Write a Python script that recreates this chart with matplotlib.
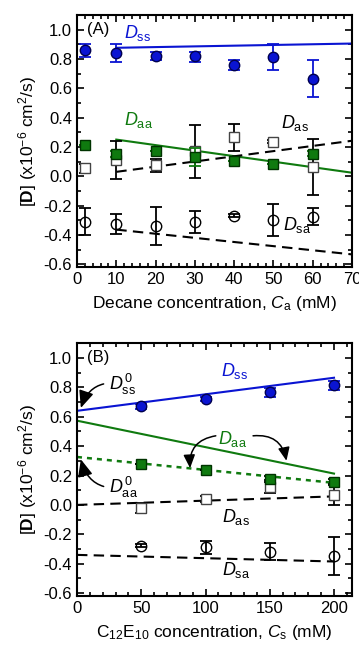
import matplotlib
matplotlib.use("Agg")
import matplotlib.pyplot as plt
from matplotlib.ticker import MultipleLocator

plt.rcParams['font.family'] = ['Liberation Sans', 'DejaVu Sans']
plt.rcParams['mathtext.fontset'] = 'custom'
plt.rcParams['mathtext.rm'] = 'Liberation Sans'
plt.rcParams['mathtext.it'] = 'Liberation Sans:italic'
plt.rcParams['mathtext.bf'] = 'Liberation Sans:bold'

# ------------------------------
# Panel A data (decane)
# ------------------------------
ca = [2, 10, 20, 30, 40, 50, 60]
a_dss = [0.86, 0.84, 0.82, 0.82, 0.76, 0.81, 0.665]
a_dss_lo = [0.045, 0.06, 0.03, 0.04, 0.035, 0.085, 0.125]
a_dss_hi = [0.04, 0.06, 0.03, 0.03, 0.035, 0.095, 0.13]
a_daa = [0.21, 0.15, 0.17, 0.13, 0.105, 0.085, 0.155]
a_daa_err = [0.0, 0.02, 0.0, 0.06, 0.0, 0.0, 0.02]
a_das = [0.055, 0.11, 0.075, 0.17, 0.265, 0.235, 0.065]
a_das_err = [0.03, 0.13, 0.045, 0.18, 0.09, 0.01, 0.19]
a_dsa = [-0.31, -0.325, -0.34, -0.31, -0.27, -0.30, -0.275]
a_dsa_err = [0.09, 0.07, 0.13, 0.075, 0.01, 0.11, 0.06]

a_fit_x = [10, 70]
a_fit_dss = [0.876, 0.905]
a_fit_daa = [0.25, 0.024]
a_fit_das = [0.03, 0.242]
a_fit_dsa = [-0.364, -0.533]

# ------------------------------
# Panel B data (C12E10)
# ------------------------------
cs = [50, 100, 150, 200]
b_dss = [0.67, 0.72, 0.765, 0.815]
b_dss_err = [0.015, 0.015, 0.03, 0.03]
b_daa = [0.28, 0.24, 0.175, 0.157]
b_daa_err = [0.0, 0.0, 0.02, 0.02]
b_das = [-0.02, 0.04, 0.125, 0.07]
b_das_err = [0.035, 0.02, 0.045, 0.07]
b_dsa = [-0.277, -0.288, -0.318, -0.345]
b_dsa_err = [0.01, 0.045, 0.06, 0.13]

b_fit_x = [0, 200]
b_fit_dss = [0.64, 0.865]
b_fit_daa = [0.573, 0.213]
b_fit_daa0 = [0.326, 0.15]
b_fit_das = [0.0, 0.058]
b_fit_dsa = [-0.34, -0.385]

blue = '#0a14d2'
green = '#0f7a0f'

fig = plt.figure(figsize=(3.59, 6.5), dpi=100)
axA = fig.add_axes([0.2145, 0.589, 0.766, 0.388])
axB = fig.add_axes([0.2145, 0.083, 0.766, 0.389])

ebkw = dict(ecolor='black', elinewidth=1.3, capsize=4, capthick=1.3, linestyle='none', zorder=3)


def style_axis(ax):
    ax.set_ylim(-0.62, 1.1)
    ax.yaxis.set_major_locator(MultipleLocator(0.2))
    ax.yaxis.set_minor_locator(MultipleLocator(0.1))
    ax.tick_params(which='both', direction='in', top=True, right=True, width=1.2, labelsize=12)
    ax.tick_params(which='major', length=5)
    ax.tick_params(which='minor', length=3)
    ax.set_yticks([1.0, 0.8, 0.6, 0.4, 0.2, 0.0, -0.2, -0.4, -0.6])
    ax.set_yticklabels(['1.0', '0.8', '0.6', '0.4', '0.2', '0.0', '-0.2', '-0.4', '-0.6'])
    for s in ax.spines.values():
        s.set_linewidth(1.5)
    ax.set_ylabel(r'[$\mathbf{D}$] (x10$^{-6}$ cm$^2$/s)', fontsize=12.5, labelpad=3)


# ------------------------------
# Panel A
# ------------------------------
ax = axA
ax.plot(a_fit_x, a_fit_dss, color=blue, lw=1.5, zorder=2)
ax.plot(a_fit_x, a_fit_daa, color=green, lw=1.5, zorder=2)
ax.plot(a_fit_x, a_fit_das, color='black', lw=1.5, ls=(0, (5, 3)), zorder=2)
ax.plot(a_fit_x, a_fit_dsa, color='black', lw=1.5, ls=(0, (5, 3)), zorder=2)

ax.errorbar(ca, a_dss, yerr=[a_dss_lo, a_dss_hi], fmt='o', ms=7.5, mfc=blue, mec='#000050',
            ecolor=blue, elinewidth=1.3, capsize=4, capthick=1.3, zorder=4)
ax.errorbar(ca, a_das, yerr=a_das_err, fmt='s', ms=7, mfc='white', mec='#444444', **ebkw)
ax.errorbar(ca, a_daa, yerr=a_daa_err, fmt='s', ms=7, mfc=green, mec='#003300',
            ecolor=green, elinewidth=1.3, capsize=4, capthick=1.3, zorder=4)
ax.errorbar(ca, a_dsa, yerr=a_dsa_err, fmt='o', ms=7.5, mfc='none', mec='black', **ebkw)

ax.set_xlim(0, 70)
ax.xaxis.set_major_locator(MultipleLocator(10))
ax.xaxis.set_minor_locator(MultipleLocator(2))
style_axis(ax)
ax.set_xlabel(r'Decane concentration, $C_{\rm a}$ (mM)', fontsize=12.5, labelpad=5)

ax.text(2.5, 1.0, '(A)', fontsize=12, va='center')
ax.text(12, 0.975, r'$D_{\rm ss}$', color=blue, fontsize=13, va='center')
ax.text(12, 0.385, r'$D_{\rm aa}$', color=green, fontsize=13, va='center')
ax.text(52, 0.36, r'$D_{\rm as}$', color='black', fontsize=13, va='center')
ax.text(52.5, -0.33, r'$D_{\rm sa}$', color='black', fontsize=13, va='center')

# ------------------------------
# Panel B
# ------------------------------
ax = axB
ax.plot(b_fit_x, b_fit_dss, color=blue, lw=1.5, zorder=2)
ax.plot(b_fit_x, b_fit_daa, color=green, lw=1.5, zorder=2)
ax.plot(b_fit_x, b_fit_daa0, color=green, lw=1.8, ls=(0, (2, 2)), zorder=2)
ax.plot(b_fit_x, b_fit_das, color='black', lw=1.5, ls=(0, (5, 3)), zorder=2)
ax.plot(b_fit_x, b_fit_dsa, color='black', lw=1.5, ls=(0, (5, 3)), zorder=2)

ax.errorbar(cs, b_dss, yerr=b_dss_err, fmt='o', ms=7.5, mfc=blue, mec='#000050',
            ecolor=blue, elinewidth=1.3, capsize=4, capthick=1.3, zorder=4)
ax.errorbar(cs, b_das, yerr=b_das_err, fmt='s', ms=7, mfc='white', mec='#444444', **ebkw)
ax.errorbar(cs, b_daa, yerr=b_daa_err, fmt='s', ms=7, mfc=green, mec='#003300',
            ecolor='black', elinewidth=1.3, capsize=4, capthick=1.3, zorder=4)
ax.errorbar(cs, b_dsa, yerr=b_dsa_err, fmt='o', ms=7.5, mfc='none', mec='black', **ebkw)

ax.set_xlim(0, 214)
ax.xaxis.set_major_locator(MultipleLocator(50))
ax.xaxis.set_minor_locator(MultipleLocator(10))
style_axis(ax)
ax.set_xlabel(r'C$_{12}$E$_{10}$ concentration, $C_{\rm s}$ (mM)', fontsize=12.5, labelpad=5)

ax.text(8, 1.0, '(B)', fontsize=12, va='center')
ax.text(112, 0.91, r'$D_{\rm ss}$', color=blue, fontsize=13, va='center')
ax.text(110, 0.45, r'$D_{\rm aa}$', color=green, fontsize=13, va='center')
ax.text(113, -0.085, r'$D_{\rm as}$', color='black', fontsize=13, va='center')
ax.text(113, -0.44, r'$D_{\rm sa}$', color='black', fontsize=13, va='center')

arrow_kw = dict(arrowstyle='-|>,head_length=0.8,head_width=0.35', color='black', lw=1.1)
ax.annotate(r'$D_{\rm ss}^{\,0}$', xy=(3, 0.66), xytext=(25, 0.82), fontsize=13, va='center',
            arrowprops=dict(connectionstyle='arc3,rad=0.45', shrinkA=2, shrinkB=0, **arrow_kw))
ax.annotate(r'$D_{\rm aa}^{\,0}$', xy=(3, 0.31), xytext=(25, 0.12), fontsize=13, va='center',
            arrowprops=dict(connectionstyle='arc3,rad=-0.45', shrinkA=2, shrinkB=0, **arrow_kw))
ax.annotate('', xy=(88, 0.25), xytext=(108, 0.47),
            arrowprops=dict(connectionstyle='arc3,rad=0.45', shrinkA=0, shrinkB=0, **arrow_kw))
ax.annotate('', xy=(163, 0.30), xytext=(137, 0.47),
            arrowprops=dict(connectionstyle='arc3,rad=-0.45', shrinkA=0, shrinkB=0, **arrow_kw))

fig.savefig('out.png', dpi=100)
